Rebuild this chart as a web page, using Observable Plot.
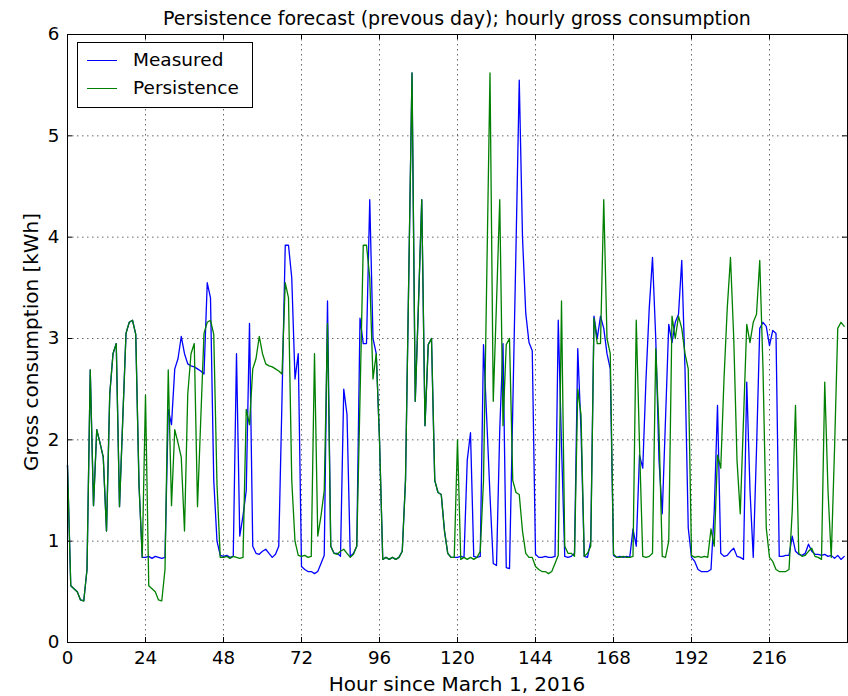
<!DOCTYPE html>
<html>
<head>
<meta charset="utf-8">
<script src="https://cdn.jsdelivr.net/npm/d3@7"></script>
<script src="https://cdn.jsdelivr.net/npm/@observablehq/plot@0.6"></script>
<style>
  body { margin: 0; background: #fff; }
  #wrap { position: relative; width: 848px; height: 696px; font-family: "DejaVu Sans", sans-serif; color: #000; }
  #title { position: absolute; left: 67px; width: 780px; top: 4px; height: 28px; line-height: 28px; text-align: center; font-size: 19px; white-space: nowrap; }
  #chart { position: absolute; left: 0; top: 32px; }
  #xlabel { position: absolute; left: 67px; width: 780px; top: 672px; line-height: 24px; text-align: center; font-size: 20px; white-space: nowrap; }
  #ylabel { position: absolute; left: 31px; top: 342px; transform: translate(-50%, -50%) rotate(-90deg); font-size: 20px; white-space: nowrap; }
  #legend { position: absolute; left: 77px; top: 42px; width: 176px; height: 66px; border: 1px solid #000; background: #fff; box-sizing: border-box; }
  .sw { position: absolute; left: 9px; width: 30px; height: 0; }
  .lt { position: absolute; left: 55px; height: 22px; line-height: 22px; font-size: 18.5px; white-space: nowrap; }
</style>
</head>
<body>
<div id="wrap">
  <div id="title">Persistence forecast (prevous day); hourly gross consumption</div>
  <div id="chart"></div>
  <div id="xlabel">Hour since March 1, 2016</div>
  <div id="ylabel">Gross consumption [kWh]</div>
  <div id="legend">
    <div class="sw" style="top:17px;border-top:1.3px solid #0000ff;"></div>
    <div class="lt" style="top:6px;">Measured</div>
    <div class="sw" style="top:45px;border-top:1.3px solid #008000;"></div>
    <div class="lt" style="top:34px;">Persistence</div>
  </div>
</div>
<script>
// Hourly gross consumption [kWh], hours 0..239 (10 days, 24 values per row)
const measured = [
  1.75, 0.56, 0.53, 0.50, 0.42, 0.41, 0.72, 2.69, 1.35, 2.10, 1.97, 1.83, 1.10, 2.45, 2.85, 2.95, 1.34, 2.20, 3.05, 3.16, 3.18, 3.04, 1.56, 0.84,
  0.84, 0.85, 0.83, 0.85, 0.84, 0.83, 0.84, 2.30, 2.15, 2.70, 2.80, 3.02, 2.85, 2.75, 2.73, 2.72, 2.70, 2.68, 2.65, 3.55, 3.40, 1.60, 1.00, 0.86,
  0.85, 0.86, 0.84, 0.85, 2.85, 1.05, 1.25, 1.50, 3.15, 0.95, 0.88, 0.87, 0.90, 0.92, 0.88, 0.84, 0.87, 0.95, 2.40, 3.92, 3.92, 3.60, 2.60, 2.85,
  0.75, 0.72, 0.70, 0.70, 0.68, 0.70, 0.78, 0.86, 3.37, 0.95, 0.88, 0.88, 0.85, 2.50, 2.25, 0.85, 0.88, 0.95, 3.20, 2.95, 2.95, 4.37, 3.00, 2.85,
  2.00, 0.82, 0.84, 0.82, 0.84, 0.82, 0.84, 0.90, 1.60, 3.60, 5.62, 2.38, 3.35, 4.37, 2.14, 2.94, 3.00, 1.60, 1.48, 1.46, 1.10, 0.88, 0.84, 0.84,
  0.84, 0.85, 0.84, 1.80, 2.07, 0.85, 0.84, 0.85, 2.94, 2.20, 1.45, 0.78, 0.76, 2.10, 2.95, 0.74, 0.73, 2.30, 3.90, 5.55, 4.00, 3.25, 2.96, 2.88,
  0.87, 0.84, 0.84, 0.85, 0.84, 0.84, 0.85, 3.18, 1.95, 0.85, 0.84, 0.85, 0.88, 2.90, 2.10, 0.85, 0.84, 1.00, 3.22, 3.00, 3.22, 3.10, 2.85, 2.70,
  0.86, 0.84, 0.85, 0.84, 0.85, 0.84, 1.12, 0.95, 1.85, 1.72, 2.60, 3.30, 3.80, 3.00, 1.80, 1.27, 2.20, 3.14, 2.96, 3.16, 3.24, 3.77, 2.70, 1.13,
  0.84, 0.80, 0.72, 0.70, 0.70, 0.70, 0.72, 1.30, 2.34, 0.88, 0.85, 0.86, 0.90, 0.93, 0.85, 0.84, 0.82, 2.57, 1.50, 0.84, 1.90, 3.10, 3.16, 3.12,
  2.93, 3.08, 3.05, 0.85, 0.85, 0.86, 0.86, 1.05, 0.90, 0.87, 0.86, 0.88, 0.97, 0.90, 0.87, 0.87, 0.86, 0.87, 0.85, 0.86, 0.83, 0.86, 0.82, 0.85
];
const persistence = [
  1.75, 0.56, 0.53, 0.50, 0.42, 0.41, 0.72, 2.69, 1.35, 2.10, 1.97, 1.83, 1.10, 2.45, 2.85, 2.95, 1.34, 2.20, 3.05, 3.16, 3.18, 3.04, 1.56, 0.84,
  2.44, 0.56, 0.53, 0.50, 0.42, 0.41, 0.72, 2.69, 1.35, 2.10, 1.97, 1.83, 1.10, 2.45, 2.85, 2.95, 1.34, 2.20, 3.05, 3.16, 3.18, 3.04, 1.56, 0.84,
  0.84, 0.85, 0.83, 0.85, 0.84, 0.83, 0.84, 2.30, 2.15, 2.70, 2.80, 3.02, 2.85, 2.75, 2.73, 2.72, 2.70, 2.68, 2.65, 3.55, 3.40, 1.60, 1.00, 0.86,
  0.85, 0.86, 0.84, 0.85, 2.85, 1.05, 1.25, 1.50, 3.15, 0.95, 0.88, 0.87, 0.90, 0.92, 0.88, 0.84, 0.87, 0.95, 2.40, 3.92, 3.92, 3.60, 2.60, 2.85,
  2.00, 0.82, 0.84, 0.82, 0.84, 0.82, 0.84, 0.90, 1.60, 3.60, 5.62, 2.38, 3.35, 4.37, 2.14, 2.94, 3.00, 1.60, 1.48, 1.46, 1.10, 0.88, 0.84, 0.84,
  2.00, 0.82, 0.84, 0.82, 0.84, 0.82, 0.84, 0.90, 1.60, 3.60, 5.62, 2.38, 3.35, 4.37, 2.14, 2.94, 3.00, 1.60, 1.48, 1.46, 1.10, 0.88, 0.84, 0.84,
  0.75, 0.72, 0.70, 0.70, 0.68, 0.70, 0.78, 0.86, 3.37, 0.95, 0.88, 0.88, 0.85, 2.50, 2.25, 0.85, 0.88, 0.95, 3.20, 2.95, 2.95, 4.37, 3.00, 2.85,
  0.87, 0.84, 0.84, 0.85, 0.84, 0.84, 0.85, 3.18, 1.95, 0.85, 0.84, 0.85, 0.88, 2.90, 2.10, 0.85, 0.84, 1.00, 3.22, 3.00, 3.22, 3.10, 2.85, 2.70,
  0.86, 0.84, 0.85, 0.84, 0.85, 0.84, 1.12, 0.95, 1.85, 1.72, 2.60, 3.30, 3.80, 3.00, 1.80, 1.27, 2.20, 3.14, 2.96, 3.16, 3.24, 3.77, 2.70, 1.13,
  0.84, 0.80, 0.72, 0.70, 0.70, 0.70, 0.72, 1.30, 2.34, 0.88, 0.85, 0.86, 0.90, 0.93, 0.85, 0.84, 0.82, 2.57, 1.50, 0.84, 1.90, 3.10, 3.16, 3.12
];
const xTicks = [0, 24, 48, 72, 96, 120, 144, 168, 192, 216];
const yTicks = [0, 1, 2, 3, 4, 5, 6];

const measuredRows = measured.map((v, i) => ({hour: i, value: v}));
const persistRows = persistence.map((v, i) => ({hour: i, value: v}));

const chart = Plot.plot({
  width: 848,
  height: 664,
  marginTop: 2,
  marginBottom: 54,
  marginLeft: 67,
  marginRight: 1,
  x: {domain: [0, 240]},
  y: {domain: [0, 6]},
  style: {fontFamily: "DejaVu Sans, sans-serif", fontSize: "18.3px", color: "black", background: "white", overflow: "visible"},
  marks: [
    Plot.gridX({ticks: xTicks, stroke: "black", strokeOpacity: 0.75, strokeWidth: 0.8, strokeDasharray: "1.5,3.5"}),
    Plot.gridY({ticks: yTicks, stroke: "black", strokeOpacity: 0.75, strokeWidth: 0.8, strokeDasharray: "1.5,3.5"}),
    Plot.line(measuredRows, {x: "hour", y: "value", stroke: "#0000ff", strokeWidth: 1.3}),
    Plot.line(persistRows, {x: "hour", y: "value", stroke: "#008000", strokeWidth: 1.3}),
    Plot.tickX(xTicks, {x: d => d, stroke: "black", insetTop: 603}),
    Plot.tickX(xTicks, {x: d => d, stroke: "black", insetBottom: 603}),
    Plot.tickY(yTicks, {y: d => d, stroke: "black", insetRight: 775}),
    Plot.tickY(yTicks, {y: d => d, stroke: "black", insetLeft: 775}),
    Plot.axisX({ticks: xTicks, tickSize: 0, tickPadding: 8, label: null, fontSize: 18.3, tickFormat: d => String(d)}),
    Plot.axisY({ticks: yTicks, tickSize: 0, tickPadding: 8, label: null, fontSize: 18.3, tickFormat: d => String(d)}),
    Plot.frame({stroke: "black", strokeWidth: 1})
  ]
});
document.getElementById("chart").appendChild(chart);
</script>
</body>
</html>
